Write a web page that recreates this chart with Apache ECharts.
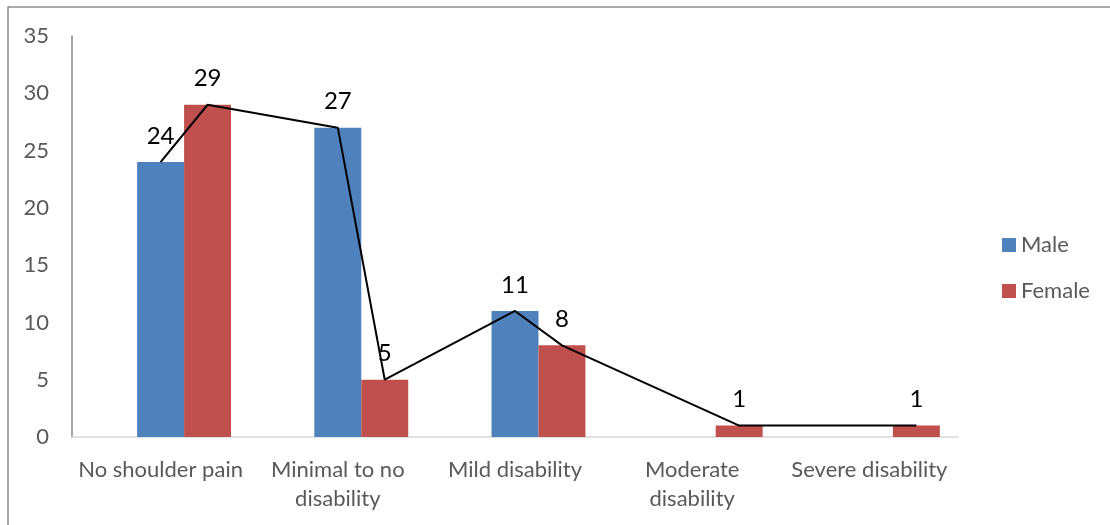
<!DOCTYPE html>
<html>
<head>
<meta charset="utf-8">
<title>Shoulder disability by sex</title>
<script src="https://cdn.jsdelivr.net/npm/echarts@6/dist/echarts.min.js"></script>
<style>
  html, body { margin: 0; padding: 0; background: #ffffff; }
  #chart { width: 1110px; height: 525px; }
</style>
</head>
<body>
<div id="chart"></div>
<script>
// Categories and counts per sex
const categories = ['No shoulder pain', 'Minimal to no\ndisability', 'Mild disability', 'Moderate\ndisability', 'Severe disability'];
const maleCounts = [24, 27, 11, null, null];
const femaleCounts = [29, 5, 8, 1, 1];
const yTicks = { min: 0, max: 35, interval: 5 };

// Each bar takes this share of a category band; a blank slot sits left of Male
const BAR_FRACTION = 0.265;

// Trend line runs through the top-centre of every drawn bar, Male then Female
const trendPoints = [];
categories.forEach((c, i) => {
  if (maleCounts[i] != null) trendPoints.push([i, maleCounts[i]]);
  if (femaleCounts[i] != null) trendPoints.push([i + BAR_FRACTION, femaleCounts[i]]);
});

const textColor = '#595959';
const fontFamily = 'Lato, "Open Sans", sans-serif';

const chart = echarts.init(document.getElementById('chart'));
chart.setOption({
  animation: false,
  backgroundColor: '#ffffff',
  graphic: [{
    type: 'rect',
    shape: { x: 8, y: 7, width: 1300, height: 700 },
    style: { fill: 'none', stroke: '#8c8c8c', lineWidth: 1.5 },
    silent: true
  }],
  grid: { left: 72, right: 152, top: 36, bottom: 88, containLabel: false },
  legend: {
    data: ['Male', 'Female'],
    orient: 'vertical',
    left: 997,
    top: 229,
    itemWidth: 14,
    itemHeight: 14,
    itemGap: 24,
    icon: 'rect',
    textStyle: { color: textColor, fontSize: 22, fontFamily: fontFamily }
  },
  xAxis: [{
    type: 'category',
    data: categories,
    axisLine: { lineStyle: { color: '#d9d9d9', width: 1.5 } },
    axisTick: { show: false },
    axisLabel: { color: textColor, fontSize: 22, fontFamily: fontFamily, margin: 18, lineHeight: 29, interval: 0 }
  }, {
    type: 'value',
    min: -0.5,
    max: categories.length - 0.5,
    show: false
  }],
  yAxis: {
    type: 'value',
    min: yTicks.min,
    max: yTicks.max,
    interval: yTicks.interval,
    axisLine: { show: true, onZero: false, lineStyle: { color: '#868686', width: 1.5 } },
    axisTick: { show: false },
    splitLine: { show: false },
    axisLabel: { color: textColor, fontSize: 22, fontFamily: fontFamily, margin: 23 }
  },
  series: [
    {
      name: 'blank',
      type: 'bar',
      data: categories.map(() => null),
      barWidth: (BAR_FRACTION * 100) + '%',
      barGap: '0%'
    },
    {
      name: 'Male',
      type: 'bar',
      data: maleCounts,
      barWidth: (BAR_FRACTION * 100) + '%',
      barGap: '0%',
      itemStyle: { color: '#4f81bd' }
    },
    {
      name: 'Female',
      type: 'bar',
      data: femaleCounts,
      barWidth: (BAR_FRACTION * 100) + '%',
      barGap: '0%',
      itemStyle: { color: '#c0504d' }
    },
    {
      name: 'Total',
      type: 'line',
      xAxisIndex: 1,
      data: trendPoints,
      showSymbol: true,
      symbol: 'circle',
      symbolSize: 0.1,
      itemStyle: { color: '#000000' },
      lineStyle: { color: '#000000', width: 2 },
      label: {
        show: true,
        position: 'top',
        distance: 14,
        color: '#000000',
        fontSize: 24,
        fontFamily: fontFamily,
        formatter: p => p.value[1]
      },
      z: 5
    }
  ]
});
</script>
</body>
</html>
